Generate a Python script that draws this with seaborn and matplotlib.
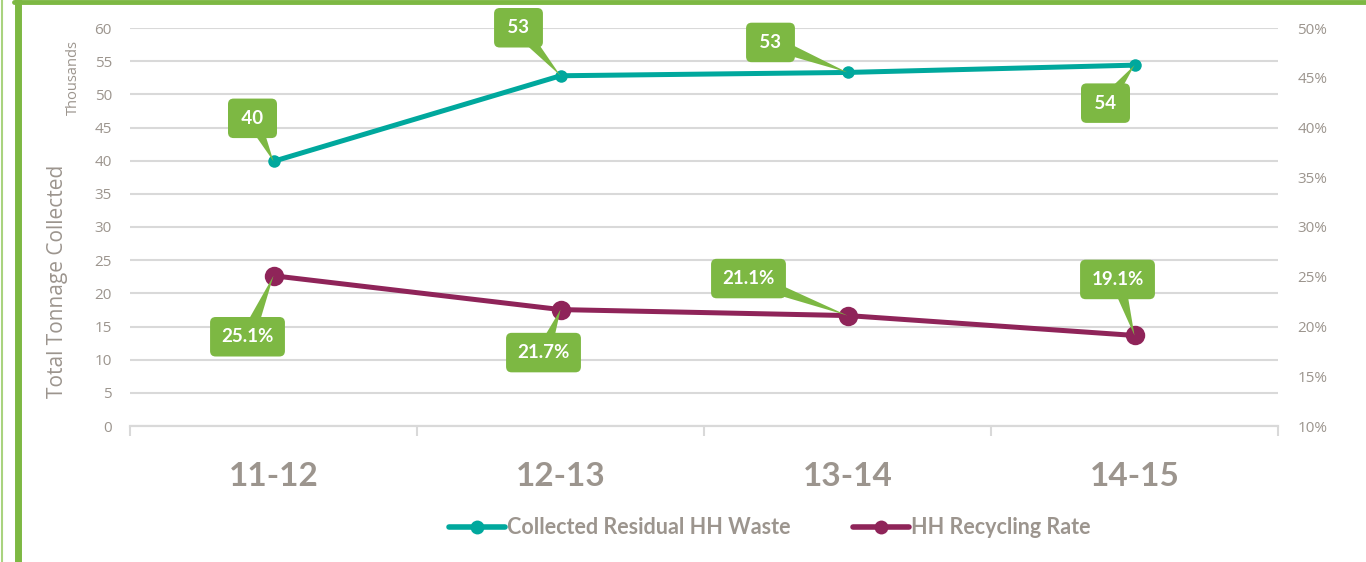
import pandas as pd
import numpy as np
import seaborn as sns
import matplotlib.pyplot as plt
from matplotlib.lines import Line2D
from matplotlib.ticker import FuncFormatter, MultipleLocator, FixedLocator

# data
years = ["11-12", "12-13", "13-14", "14-15"]
residual_waste = [39.9, 52.8, 53.3, 54.4]          # thousands of tonnes
recycling_rate = [0.251, 0.217, 0.211, 0.191]
waste_labels = ["40", "53", "53", "54"]
rate_labels = ["25.1%", "21.7%", "21.1%", "19.1%"]
series_names = ["Collected Residual HH Waste", "HH Recycling Rate"]

# callout offsets in pixels (box centre relative to point)
waste_offsets = [(-21, 43), (-42, 48), (-77, 30), (-29, -38)]
rate_offsets = [(-26, -61), (-17, -43), (-99, 37), (-17, 56)]

TEAL = "#00A89D"
MAROON = "#8F2459"
GREEN = "#7DB843"
GREY = "#9C958E"
GRID = "#D9D9D9"

sns.set_theme(style="white")
plt.rcParams["font.family"] = ["Open Sans", "DejaVu Sans"]

df = pd.DataFrame({"year": years, "waste": residual_waste, "rate": recycling_rate})

fig = plt.figure(figsize=(13.66, 5.62), dpi=100)
ax = fig.add_axes([130 / 1366, 1 - 426 / 562, 1148 / 1366, 398 / 562])
ax2 = ax.twinx()

sns.lineplot(data=df, x="year", y="waste", ax=ax, color=TEAL, lw=3.6,
             marker="o", markersize=9, markeredgewidth=0, legend=False, zorder=3)
sns.lineplot(data=df, x="year", y="rate", ax=ax2, color=MAROON, lw=3.6,
             marker="o", markersize=14, markeredgewidth=0, legend=False, zorder=3)

ax.set_xlim(-0.5, 3.5)
ax.set_ylim(0, 60)
ax2.set_ylim(0.10, 0.50)
ax.yaxis.set_major_locator(MultipleLocator(5))
ax2.yaxis.set_major_locator(MultipleLocator(0.05))
ax2.yaxis.set_major_formatter(FuncFormatter(lambda v, p: f"{v * 100:.0f}%"))

ax.grid(axis="y", color=GRID, lw=1.5)
ax.set_axisbelow(True)
for a in (ax, ax2):
    for s in ("top", "left", "right"):
        a.spines[s].set_visible(False)
    a.spines["bottom"].set_color(GRID)
    a.spines["bottom"].set_linewidth(1.5)
    a.set_xlabel("")
    a.set_ylabel("")

ax.tick_params(axis="y", length=0, pad=13, labelsize=11, labelcolor=GREY)
ax2.tick_params(axis="y", length=0, pad=14, labelsize=11, labelcolor=GREY)
ax.xaxis.set_minor_locator(FixedLocator(np.arange(-0.5, 4, 1)))
ax.tick_params(axis="x", which="major", length=0, pad=26)
ax.tick_params(axis="x", which="minor", length=7, width=1.5, color=GRID, direction="out", bottom=True)
for t in ax.get_xticklabels():
    t.set_fontfamily(["Lato", "DejaVu Sans"])
    t.set_fontweight("bold")
    t.set_fontsize(24)
    t.set_color(GREY)

# callouts
def callout(axis, x, y, text, off):
    if len(text) < 3:
        text = "\u2009" + text + "\u2009"
    axis.annotate(text, xy=(x, y), xytext=off, textcoords="offset pixels",
                  ha="center", va="center", color="white", fontsize=13.5,
                  fontweight="bold", family=["Lato", "DejaVu Sans"], zorder=5,
                  bbox=dict(boxstyle="round,pad=0.6,rounding_size=0.3", fc=GREEN, ec="none"),
                  arrowprops=dict(arrowstyle="wedge,tail_width=0.8,shrink_factor=0.5",
                                  fc=GREEN, ec="none", shrinkA=0, shrinkB=0, patchA=None))

for i in range(len(years)):
    callout(ax, i, residual_waste[i], waste_labels[i], waste_offsets[i])
    callout(ax2, i, recycling_rate[i], rate_labels[i], rate_offsets[i])

fig.text(57 / 1366, 1 - 281 / 562, "Total Tonnage Collected", rotation=90,
         ha="center", va="center", fontsize=15, color=GREY)
fig.text(73 / 1366, 1 - 77 / 562, "Thousands", rotation=90,
         ha="center", va="center", fontsize=10.5, color=GREY)

handles = [Line2D([], [], color=TEAL, lw=4, marker="o", markersize=10, markeredgewidth=0),
           Line2D([], [], color=MAROON, lw=4, marker="o", markersize=10, markeredgewidth=0)]
leg = fig.legend(handles, series_names,
                 loc="center", bbox_to_anchor=(770 / 1366, 1 - 528 / 562), ncol=2,
                 frameon=False, handlelength=2.6, columnspacing=2.9, handletextpad=0.1,
                 prop={"family": ["Lato", "DejaVu Sans"], "weight": "bold", "size": 15.5})
for t in leg.get_texts():
    t.set_color(GREY)

# green frame
fig.add_artist(Line2D([1.5 / 1366] * 2, [0, 1], transform=fig.transFigure, color="#A9D37F", lw=1.5))
fig.add_artist(Line2D([17.5 / 1366] * 2, [0, 1], transform=fig.transFigure, color=GREEN, lw=5))
fig.add_artist(Line2D([14 / 1366, 1], [1 - 2 / 562] * 2, transform=fig.transFigure, color=GREEN, lw=3.5))

fig.savefig("out.png", dpi=100)
